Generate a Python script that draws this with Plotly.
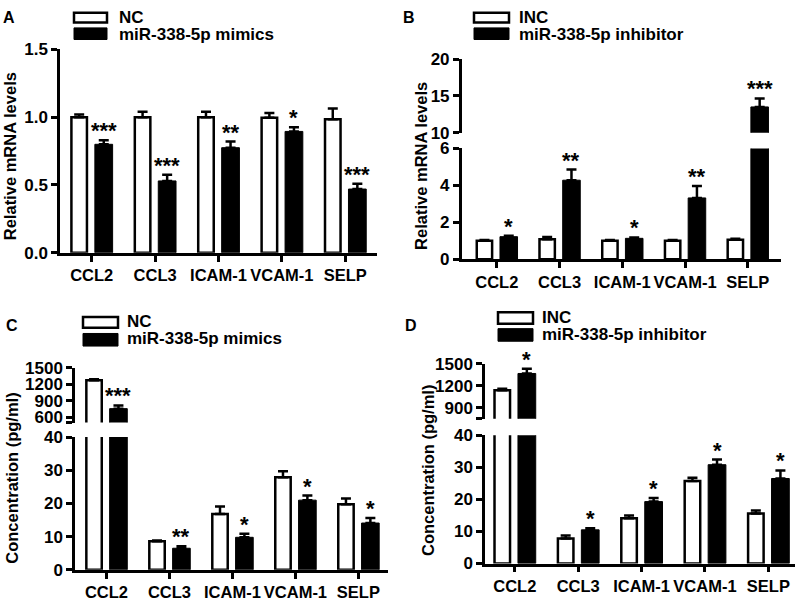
import plotly.graph_objects as go

# ---------------- data ----------------
categories = ["CCL2", "CCL3", "ICAM-1", "VCAM-1", "SELP"]

A_nc = [1.00, 1.00, 1.00, 0.995, 0.985]
A_nc_err = [0.02, 0.04, 0.04, 0.035, 0.08]
A_mimics = [0.80, 0.53, 0.775, 0.895, 0.47]
A_mimics_err = [0.03, 0.045, 0.045, 0.03, 0.04]
A_stars = ["***", "***", "**", "*", "***"]

B_inc = [1.00, 1.08, 1.00, 1.00, 1.05]
B_inc_err = [0.04, 0.12, 0.04, 0.04, 0.06]
B_inhibitor = [1.22, 4.28, 1.13, 3.32, 13.5]
B_inhibitor_err = [0.05, 0.58, 0.05, 0.65, 1.15]
B_stars = ["*", "**", "*", "**", "***"]

C_nc = [1275, 8.6, 16.8, 27.9, 19.8]
C_nc_err = [15, 0.2, 2.3, 1.8, 1.7]
C_mimics = [755, 6.5, 9.8, 21.0, 14.1]
C_mimics_err = [58, 0.6, 1.1, 1.4, 1.5]
C_stars = ["***", "**", "*", "*", "*"]

D_inc = [1140, 7.8, 14.1, 25.7, 15.6]
D_inc_err = [20, 0.9, 0.9, 1.0, 0.9]
D_inhibitor = [1370, 10.5, 19.3, 30.8, 26.5]
D_inhibitor_err = [65, 0.5, 1.1, 1.6, 2.5]
D_stars = ["*", "*", "*", "*", "*"]

W, H = 800, 605
FONT = "Liberation Sans, Arial, sans-serif"

def px_x(p):
    return p / W

def px_y(p):
    return 1 - p / H

fig = go.Figure()

NC_OFF, NC_W = -0.32, 0.245
TR_OFF, TR_W = 0.05, 0.28


def add_pair(xa, ya, ctrl, ctrl_err, trt, trt_err):
    fig.add_trace(go.Bar(
        x=categories, y=ctrl, xaxis=xa, yaxis=ya, showlegend=False,
        offset=NC_OFF, width=NC_W,
        marker=dict(color="white", line=dict(color="black", width=2.5)),
        error_y=dict(type="data", array=ctrl_err, arrayminus=[0] * 5, symmetric=False,
                     color="black", thickness=2.5, width=5),
    ))
    fig.add_trace(go.Bar(
        x=categories, y=trt, xaxis=xa, yaxis=ya, showlegend=False,
        offset=TR_OFF, width=TR_W,
        marker=dict(color="black", line=dict(color="black", width=1)),
        error_y=dict(type="data", array=trt_err, arrayminus=[0] * 5, symmetric=False,
                     color="black", thickness=2.5, width=5),
    ))


def add_stars(xa, ya_list, vals, errs, stars):
    for i, (v, e, s) in enumerate(zip(vals, errs, stars)):
        fig.add_annotation(
            x=i + TR_OFF + TR_W / 2, y=v + e, xref=xa, yref=ya_list[i],
            text=s, showarrow=False, yanchor="bottom", yshift=-5,
            font=dict(family=FONT, size=22, color="black", weight="bold"),
        )

# panel A
add_pair("x", "y", A_nc, A_nc_err, A_mimics, A_mimics_err)
add_stars("x", ["y"] * 5, A_mimics, A_mimics_err, A_stars)
# panel B (lower y2, upper y3)
add_pair("x2", "y2", B_inc, B_inc_err, B_inhibitor, B_inhibitor_err)
add_pair("x2", "y3", B_inc, B_inc_err, B_inhibitor, B_inhibitor_err)
add_stars("x2", ["y2", "y2", "y2", "y2", "y3"], B_inhibitor, B_inhibitor_err, B_stars)
# panel C (lower y4, upper y5)
add_pair("x3", "y4", C_nc, C_nc_err, C_mimics, C_mimics_err)
add_pair("x3", "y5", C_nc, C_nc_err, C_mimics, C_mimics_err)
add_stars("x3", ["y5", "y4", "y4", "y4", "y4"], C_mimics, C_mimics_err, C_stars)
# panel D (lower y6, upper y7)
add_pair("x4", "y6", D_inc, D_inc_err, D_inhibitor, D_inhibitor_err)
add_pair("x4", "y7", D_inc, D_inc_err, D_inhibitor, D_inhibitor_err)
add_stars("x4", ["y7", "y6", "y6", "y6", "y6"], D_inhibitor, D_inhibitor_err, D_stars)

tickfont = dict(family=FONT, size=17, color="black", weight="bold")
xtickfont = dict(family=FONT, size=16.5, color="black", weight="bold")
common = dict(showline=True, linecolor="black", linewidth=2.5, ticks="outside",
              ticklen=6, tickwidth=2.5, tickcolor="black", showgrid=False,
              zeroline=False, fixedrange=True, tickangle=0)


def xax(dom, rng, anchor):
    return dict(domain=dom, range=rng, anchor=anchor, type="category",
                tickfont=xtickfont, **common)


def yax(dom, rng, anchor, tickvals, ticktext):
    return dict(domain=dom, range=rng, anchor=anchor, tickvals=tickvals,
                ticktext=ticktext, tickfont=tickfont, **common)

layout = dict(
    width=W, height=H, autosize=False,
    margin=dict(l=0, r=0, t=0, b=0),
    paper_bgcolor="white", plot_bgcolor="white",
    barmode="group",
    font=dict(family=FONT, color="black"),
    xaxis=xax([px_x(60), px_x(377)], [-0.5, 4.5], "y"),
    yaxis=yax([px_y(251.7), px_y(41.7)], [0, 1.5], "x",
              [0, 0.5, 1.0, 1.5], ["0.0", "0.5", "1.0", "1.5"]),
    xaxis2=xax([px_x(461.7), px_x(781)], [-0.56, 4.53], "y2"),
    yaxis2=yax([px_y(258.3), px_y(144)], [0, 6], "x2",
               [0, 2, 4, 6], ["0", "2", "4", "6"]),
    yaxis3=yax([px_y(127.7), px_y(51.7)], [10, 20], "x2",
               [10, 15, 20], ["10", "15", "20"]),
    xaxis3=xax([px_x(75), px_x(388)], [-0.5, 4.47], "y4"),
    yaxis4=yax([px_y(579), px_y(442)], [0, 40], "x3",
               [0, 10, 20, 30, 40], ["0", "10", "20", "30", "40"]),
    yaxis5=yax([px_y(427), px_y(370.5)], [500, 1500], "x3",
               [500, 600, 900, 1200, 1500], ["", "600", "900", "1200", "1500"]),
    xaxis4=xax([px_x(485), px_x(795)], [-0.47, 4.42], "y6"),
    yaxis6=yax([px_y(572.5), px_y(440)], [0, 40], "x4",
               [0, 10, 20, 30, 40], ["0", "10", "20", "30", "40"]),
    yaxis7=yax([px_y(423), px_y(366.5)], [750, 1500], "x4",
               [750, 900, 1200, 1500], ["", "900", "1200", "1500"]),
)
fig.update_layout(**layout)

# ---------- legends (boxes + text), panel letters, axis titles ----------
legends = [
    (74, 107, 4, 14, 19.5, 31.5, 117, 9, 26, "NC", "miR-338-5p mimics"),
    (474, 509, 4, 14, 19.5, 31.5, 517, 9, 26, "INC", "miR-338-5p inhibitor"),
    (83, 118, 318, 329, 335, 348, 125, 323, 340, "NC", "miR-338-5p mimics"),
    (498, 533, 313, 325, 330, 343, 540, 318.5, 336, "INC", "miR-338-5p inhibitor"),
]
leg_font = dict(family=FONT, size=17, color="black", weight="bold")
for bx0, bx1, ny0, ny1, ty0, ty1, tx, nty, tty, nl, tl in legends:
    fig.add_shape(type="rect", xref="paper", yref="paper",
                  x0=px_x(bx0), x1=px_x(bx1), y0=px_y(ny1), y1=px_y(ny0),
                  line=dict(color="black", width=2.5), fillcolor="white")
    fig.add_shape(type="rect", xref="paper", yref="paper",
                  x0=px_x(bx0), x1=px_x(bx1), y0=px_y(ty1), y1=px_y(ty0),
                  line=dict(color="black", width=1), fillcolor="black")
    fig.add_annotation(xref="paper", yref="paper", x=px_x(tx), y=px_y(nty),
                       text=nl, showarrow=False, xanchor="left", yanchor="middle",
                       font=leg_font)
    fig.add_annotation(xref="paper", yref="paper", x=px_x(tx), y=px_y(tty),
                       text=tl, showarrow=False, xanchor="left", yanchor="middle",
                       font=leg_font)

for letter, lx, ly in [("A", 9, 9), ("B", 409, 9), ("C", 12, 327), ("D", 411, 327)]:
    fig.add_annotation(xref="paper", yref="paper", x=px_x(lx), y=px_y(ly),
                       text=letter, showarrow=False, xanchor="center", yanchor="middle",
                       font=dict(family=FONT, size=16, color="black", weight="bold"))

for title, tx, ty in [("Relative mRNA levels", 10, 152), ("Relative mRNA levels", 421, 162),
                      ("Concentration (pg/ml)", 12, 485), ("Concentration (pg/ml)", 428, 477)]:
    fig.add_annotation(xref="paper", yref="paper", x=px_x(tx), y=px_y(ty),
                       text=title, showarrow=False, textangle=-90,
                       xanchor="center", yanchor="middle",
                       font=dict(family=FONT, size=16.5, color="black", weight="bold"))

# remove the browser's default 8px body margin so the 800x605 figure fills the window
fig.write_html("out.html", config={"displayModeBar": False},
               post_script="document.body.style.margin='0';")
